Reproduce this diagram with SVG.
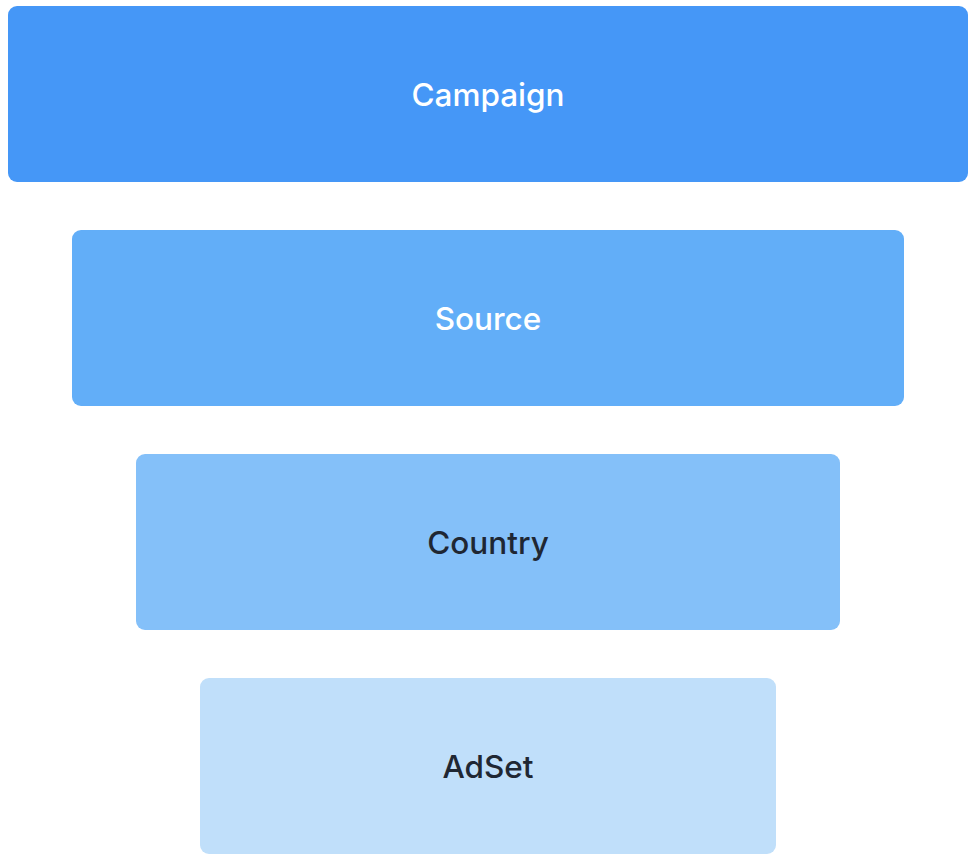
<svg xmlns="http://www.w3.org/2000/svg" width="976" height="862" viewBox="0 0 976 862">
<style>
.lbl{font-family:Inter,"Noto Sans","Liberation Sans",sans-serif;font-size:31.5px;font-weight:500;text-anchor:middle}
.light{fill:#ffffff}
.dark{fill:#1f2733}
</style>
<rect width="976" height="862" fill="#ffffff"/>
<g id="campaign">
<rect x="8" y="6" width="960" height="176" rx="9" fill="#4597f7"/>
<text class="lbl light" x="488" y="105.5">Campaign</text>
</g>
<g id="source">
<rect x="72" y="230" width="832" height="176" rx="9" fill="#62aef8"/>
<text class="lbl light" x="488" y="329.5">Source</text>
</g>
<g id="country">
<rect x="136" y="454" width="704" height="176" rx="9" fill="#84c0f9"/>
<text class="lbl dark" x="488" y="553.5">Country</text>
</g>
<g id="adset">
<rect x="200" y="678" width="576" height="176" rx="9" fill="#c0dffa"/>
<text class="lbl dark" x="488" y="777.5">AdSet</text>
</g>
<g id="connectors"></g>
</svg>
